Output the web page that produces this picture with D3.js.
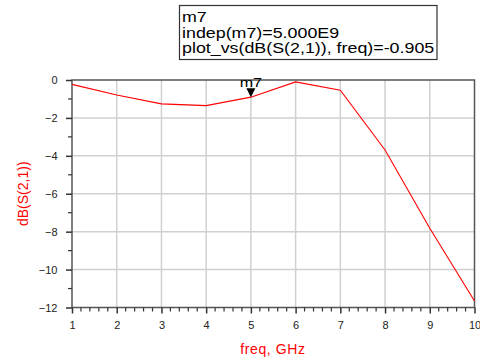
<!DOCTYPE html>
<html><head><meta charset="utf-8">
<script src="https://cdn.jsdelivr.net/npm/d3@7"></script>
<style>body{margin:0;background:#fff;}svg{display:block;font-family:"Liberation Sans",Arial,sans-serif;}</style>
</head><body>
<script>
const freq = [1,2,3,4,5,6,7,8,9,10];
const s21 = [-0.23,-0.79,-1.26,-1.35,-0.905,-0.10,-0.54,-3.69,-7.82,-11.66];
const xTicks = [1,2,3,4,5,6,7,8,9,10];
const yTicks = [0,-2,-4,-6,-8,-10,-12];
const legendLines = ["m7","indep(m7)=5.000E9","plot_vs(dB(S(2,1)), freq)=-0.905"];
const markerFreq = 5, markerName = "m7";

const W=480,H=361, L=72,R=474.5,T=80,B=307.5;
const svg=d3.select("body").append("svg").attr("width",W).attr("height",H);
const x=d3.scaleLinear().domain([1,10]).range([L,R]);
const y=d3.scaleLinear().domain([-12,0]).range([B,T]);

// grid
svg.append("g").selectAll("line").data(xTicks.slice(1,-1)).join("line")
 .attr("x1",d=>x(d)).attr("x2",d=>x(d)).attr("y1",T).attr("y2",B)
 .attr("stroke","#d0d0d0").attr("stroke-width",1.5);
svg.append("g").selectAll("line").data(yTicks.slice(1,-1)).join("line")
 .attr("y1",d=>y(d)).attr("y2",d=>y(d)).attr("x1",L).attr("x2",R)
 .attr("stroke","#d0d0d0").attr("stroke-width",1.5);

// frame
svg.append("rect").attr("x",L).attr("y",T).attr("width",R-L).attr("height",B-T)
 .attr("fill","none").attr("stroke","#555").attr("stroke-width",1.5);

// x axis
const minorX=d3.range(1,10.001,0.2).filter(v=>Math.abs(v-Math.round(v))>1e-6);
const xa=svg.append("g").attr("transform",`translate(0,${B})`)
 .call(d3.axisBottom(x).tickValues(xTicks).tickSize(6).tickFormat(d3.format("d")));
xa.select(".domain").remove();
xa.selectAll("line").attr("stroke","#333").attr("stroke-width",1.5);
xa.selectAll("text").attr("font-size",11).attr("fill","#222").attr("font-family","Liberation Sans, Arial").attr("dy","1.1em");
svg.append("g").selectAll("line").data(minorX).join("line")
 .attr("x1",d=>x(d)).attr("x2",d=>x(d)).attr("y1",B).attr("y2",B+4)
 .attr("stroke","#333").attr("stroke-width",1.2);

// y axis
const ya=svg.append("g").attr("transform",`translate(${L},0)`)
 .call(d3.axisLeft(y).tickValues(yTicks).tickSize(6).tickFormat(d3.format("d")));
ya.select(".domain").remove();
ya.selectAll("line").attr("stroke","#333").attr("stroke-width",1.5);
ya.selectAll("text").attr("font-size",11).attr("fill","#222").attr("font-family","Liberation Sans, Arial").attr("dx","-0.5em");
const minorY=[-1,-3,-5,-7,-9,-11];
svg.append("g").selectAll("line").data(minorY).join("line")
 .attr("y1",d=>y(d)).attr("y2",d=>y(d)).attr("x1",L-4).attr("x2",L)
 .attr("stroke","#333").attr("stroke-width",1.2);

// line
svg.append("path").datum(freq.map((f,i)=>[f,s21[i]]))
 .attr("d",d3.line().x(d=>x(d[0])).y(d=>y(d[1])))
 .attr("fill","none").attr("stroke","#ff0000").attr("stroke-width",1.1);

// marker
const mi=freq.indexOf(markerFreq);
const mx=x(markerFreq), my=y(s21[mi]);
svg.append("path").attr("d",`M${mx-4.5},${my-9}L${mx+4.5},${my-9}L${mx},${my}Z`).attr("fill","#000");
svg.append("text").attr("transform",`translate(${mx},${my-10.5}) scale(1.2,1)`).attr("text-anchor","middle")
 .attr("font-size",13.5).attr("fill","#000").text(markerName);

// legend box
svg.append("rect").attr("x",179.5).attr("y",5.5).attr("width",257.5).attr("height",54)
 .attr("fill","#fff").attr("stroke","#333").attr("stroke-width",1.2);
svg.append("g").selectAll("text").data(legendLines).join("text")
 .attr("transform",(d,i)=>`translate(182,${22+i*15.5}) scale(1.23,1)`)
 .attr("font-size",14.5).attr("fill","#000").text(d=>d);

// axis labels
svg.append("text").attr("x",273).attr("y",354).attr("text-anchor","middle")
 .attr("font-size",14).attr("letter-spacing","0.6").attr("fill","#ff0000").text("freq, GHz");
svg.append("text").attr("transform",`translate(27.5,${(T+B)/2}) rotate(-90)`).attr("text-anchor","middle")
 .attr("font-size",14).attr("fill","#ff0000").text("dB(S(2,1))");
</script>
</body></html>
